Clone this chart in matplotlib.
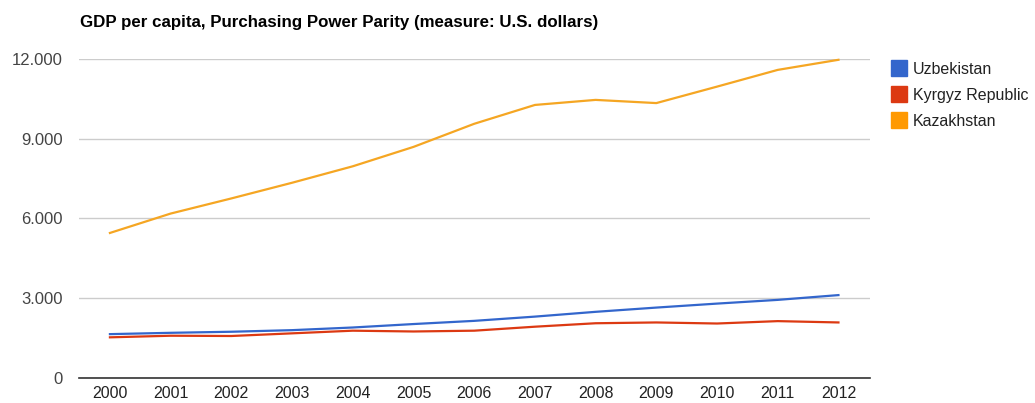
import matplotlib
matplotlib.use('Agg')
import matplotlib.pyplot as plt
from matplotlib.ticker import FuncFormatter
from matplotlib.lines import Line2D

plt.rcParams['font.family'] = ['Liberation Sans', 'DejaVu Sans']

# data
years = [2000, 2001, 2002, 2003, 2004, 2005, 2006, 2007, 2008, 2009, 2010, 2011, 2012]
uzbekistan = [1640, 1690, 1730, 1790, 1890, 2020, 2140, 2300, 2480, 2640, 2790, 2930, 3110]
kyrgyz = [1520, 1580, 1570, 1670, 1770, 1740, 1770, 1920, 2050, 2080, 2040, 2130, 2080]
kazakhstan = [5450, 6180, 6750, 7340, 7960, 8690, 9560, 10270, 10460, 10340, 10960, 11590, 11970]
yticks = [0, 3000, 6000, 9000, 12000]

names = ['Uzbekistan', 'Kyrgyz Republic', 'Kazakhstan']
colors = ['#3366CC', '#DC3912', '#F5A623']
legend_colors = ['#3366CC', '#DC3912', '#FF9900']

fig = plt.figure(figsize=(10.35, 4.03), dpi=100)
ax = fig.add_axes([0.0763, 0.0628, 0.7643, 0.7908])

for vals, c, n in zip([uzbekistan, kyrgyz, kazakhstan], colors, names):
    ax.plot(years, vals, color=c, lw=1.6, label=n, clip_on=False, zorder=3)

ax.set_xlim(1999.49, 2012.52)
ax.set_ylim(0, 12000)
ax.set_yticks(yticks)
ax.set_xticks(years)
ax.yaxis.set_major_formatter(FuncFormatter(lambda v, p: f'{int(v):,}'.replace(',', '.')))
ax.grid(axis='y', color='#cccccc', lw=1)
ax.set_axisbelow(True)
for s in ['top', 'right', 'left']:
    ax.spines[s].set_visible(False)
ax.spines['bottom'].set_color('#333333')
ax.spines['bottom'].set_linewidth(1.2)
ax.spines['bottom'].set_zorder(4)
ax.tick_params(axis='y', length=0, pad=11.5, labelsize=12, labelcolor='#444444')
ax.tick_params(axis='x', length=0, pad=6, labelsize=11.5, labelcolor='#222222')

fig.text(0.0773, 0.945, 'GDP per capita, Purchasing Power Parity (measure: U.S. dollars)',
         fontsize=12.2, fontweight='bold', color='#000000', va='center')

handles = [Line2D([], [], marker='s', ls='none', markersize=11, color=c) for c in legend_colors]
fig.legend(handles, names, loc='upper left', bbox_to_anchor=(0.855, 0.862), frameon=False,
           fontsize=11.5, handletextpad=0.35, labelspacing=0.68, borderaxespad=0, handlelength=1.0,
           labelcolor='#222222')

fig.savefig('out.png', dpi=100)
